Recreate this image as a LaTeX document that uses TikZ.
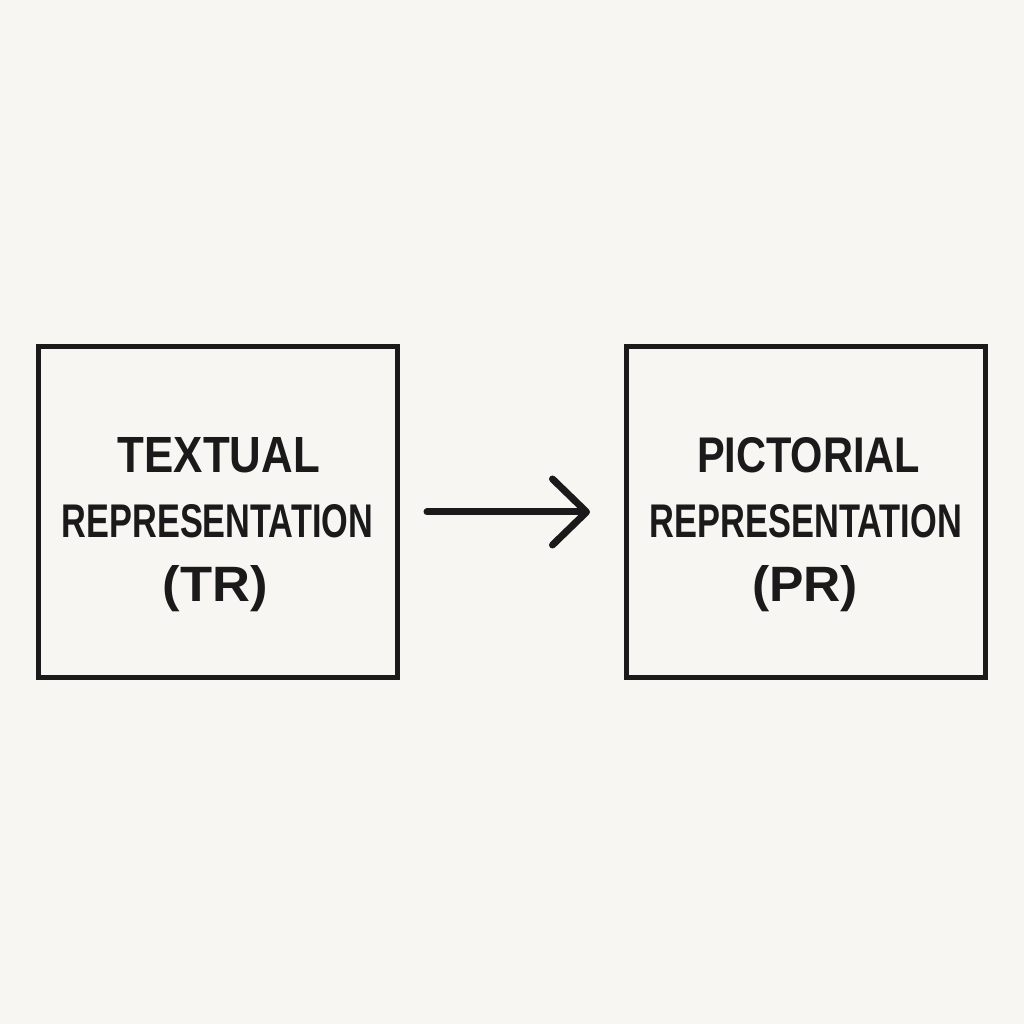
\documentclass[tikz,border=0pt]{standalone}
\usepackage{fontspec}
\setmainfont{Liberation Sans}
\usepackage{graphicx}
\usetikzlibrary{arrows.meta}
\definecolor{bg}{HTML}{F7F6F2}
\definecolor{ink}{HTML}{1A1A1A}
\tikzset{box/.style={draw=ink,line width=5pt,minimum width=359pt,minimum height=331pt,inner sep=0pt},
lbl/.style={inner sep=0pt,text=ink,anchor=base}}
\newcommand{\fitt}[3]{\resizebox{#1pt}{#2pt}{\textbf{#3}}}
\begin{document}
\begin{tikzpicture}[x=1pt,y=1pt]
\fill[bg] (0,0) rectangle (1024,1024);
\useasboundingbox (0,0) rectangle (1024,1024);
\node[box] (tr) at (217.5,511.5) {};
\node[box] (pr) at (806,511.5) {};
\node[lbl] (t1) at (219,551) {\fitt{202}{35}{TEXTUAL}};
\node[lbl] (t2) at (217.5,486) {\fitt{311}{33}{REPRESENTATION}};
\node[lbl] (t3) at (215.5,422) {\fitt{105}{36}{(TR)}};
\node[lbl] (p1) at (808.5,551) {\fitt{223}{35}{PICTORIAL}};
\node[lbl] (p2) at (806,486) {\fitt{312}{33}{REPRESENTATION}};
\node[lbl] (p3) at (805,422) {\fitt{106}{36}{(PR)}};
\coordinate (a0) at (427,512);
\coordinate (a1) at (590,512);
\draw[ink,line width=7pt,line cap=round,-{Straight Barb[length=34pt,width=66pt,line width=7pt,round]}] (a0) -- (a1);
\end{tikzpicture}
\end{document}
